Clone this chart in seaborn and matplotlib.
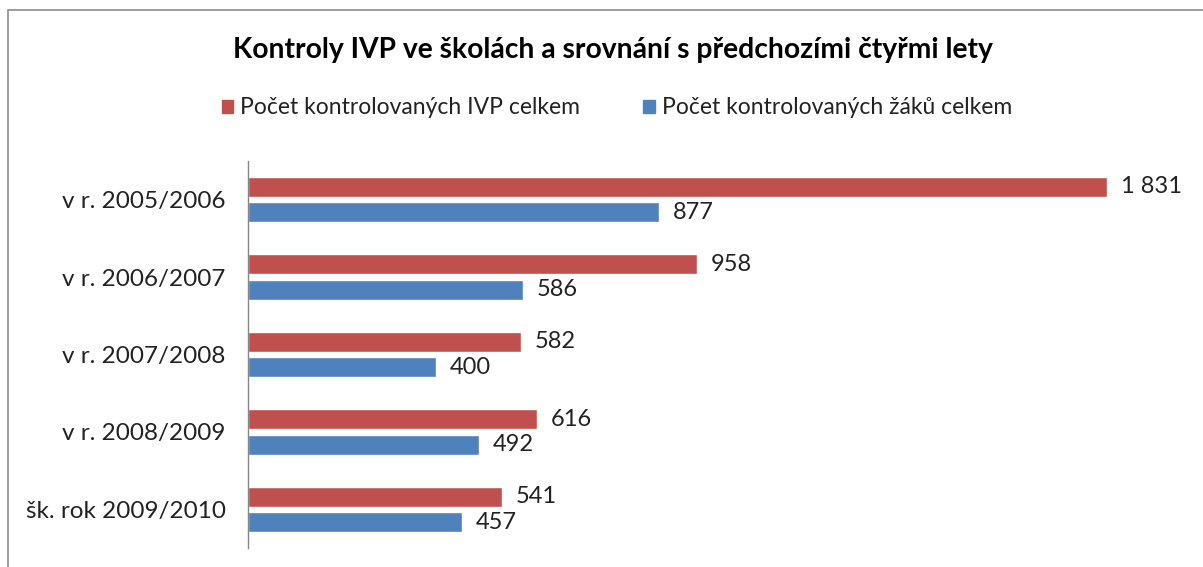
import matplotlib
matplotlib.use("Agg")
import matplotlib.pyplot as plt
import pandas as pd
import seaborn as sns
from matplotlib.patches import Rectangle

years = ["v r. 2005/2006", "v r. 2006/2007", "v r. 2007/2008", "v r. 2008/2009", "šk. rok 2009/2010"]
series = ["Počet kontrolovaných IVP celkem", "Počet kontrolovaných žáků celkem"]
ivp_counts = [1831, 958, 582, 616, 541]
pupil_counts = [877, 586, 400, 492, 457]
colors = ["#C0504D", "#4F81BD"]

df = pd.DataFrame({
    "rok": years * 2,
    "serie": [series[0]] * len(years) + [series[1]] * len(years),
    "pocet": ivp_counts + pupil_counts,
})

sns.set_theme(style="white")
plt.rcParams["font.family"] = ["Lato", "DejaVu Sans"]

W, H = 1203, 567
fig = plt.figure(figsize=(W / 100, H / 100), dpi=100)
ax = fig.add_axes([248 / W, 1 - 548 / H, (1186 - 248) / W, (548 - 161) / H])

sns.barplot(data=df, y="rok", x="pocet", hue="serie", order=years, hue_order=series,
            palette=colors, orient="h", width=0.66, gap=0.215, saturation=1,
            ax=ax, legend=False)

ax.set_xlim(0, 2000)
ax.set_xlabel("")
ax.set_ylabel("")
ax.set_xticks([])
for s in ["top", "right", "bottom"]:
    ax.spines[s].set_visible(False)
ax.spines["left"].set_color("#868686")
ax.spines["left"].set_linewidth(1)
ax.tick_params(axis="y", length=0, pad=16, labelsize=17.5, labelcolor="#222222")

for cont in ax.containers:
    labels = [f"{int(v):,}".replace(",", " ") for v in cont.datavalues]
    ax.bar_label(cont, labels=labels, padding=10, fontsize=17, color="#222222")

# legend
handles = [Rectangle((0, 0), 1, 1, color=c) for c in colors]
fig.legend(handles, series, loc="center", bbox_to_anchor=(617 / W, 1 - 108 / H),
           ncol=2, frameon=False, fontsize=16.5, handlelength=0.52, handleheight=0.52,
           handletextpad=0.3, columnspacing=2.75, labelcolor="#222222")

fig.text(613 / W, 1 - 50 / H, "Kontroly IVP ve školách a srovnání s předchozími čtyřmi lety",
         ha="center", va="center", fontsize=20.3, fontweight="bold", color="black")

# chart frame
fig.patches.append(Rectangle((8 / W, -0.1), 1.2, 1 - 10 / H + 0.1, transform=fig.transFigure,
                             fill=False, edgecolor="#8C8C8C", linewidth=1.2))

fig.savefig("out.png", dpi=100)
